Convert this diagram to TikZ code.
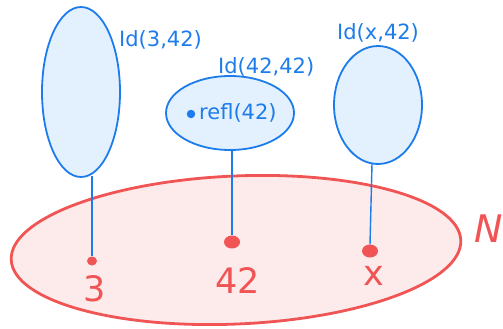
\documentclass[tikz,border=0pt]{standalone}
\usepackage{fontspec}
\setmainfont{DejaVu Sans}
\usetikzlibrary{shapes.geometric}
\definecolor{bstroke}{HTML}{1C7CEB}
\definecolor{bfill}{HTML}{E3F0FE}
\definecolor{rstroke}{HTML}{F05454}
\definecolor{rfill}{HTML}{FDEBEB}
\tikzset{
  fiber/.style={draw=bstroke, fill=bfill, line width=1.8pt, ellipse, inner sep=0pt, outer sep=0pt},
  blab/.style={text=bstroke, font=\fontsize{21}{21}\selectfont, inner sep=0pt},
  rlab/.style={text=rstroke, font=\fontsize{35}{35}\selectfont, inner sep=0pt},
  rdot/.style={fill=rstroke, draw=none, ellipse, inner sep=0pt},
  stem/.style={draw=bstroke, line width=1.4pt},
}
\begin{document}
\begin{tikzpicture}[x=1pt,y=-1pt]
\useasboundingbox (0,0) rectangle (503,329);
% base set
\node[draw=rstroke, fill=rfill, line width=2.8pt, ellipse, inner sep=0pt, minimum width=450, minimum height=148, rotate=2.5] (base) at (236,250) {};
\node[rlab, anchor=west, font=\itshape\fontsize{38}{38}\selectfont] (N) at (474,229) {N};
% fibers
\node[fiber, minimum width=78, minimum height=170] (f1) at (81,92) {};
\node[fiber, minimum width=128, minimum height=74] (f2) at (230,113) {};
\node[fiber, minimum width=88, minimum height=118] (f3) at (378,105) {};
\coordinate (s1) at (92,176);
\coordinate (s2) at (232,150);
\coordinate (s3) at (372,164);
% points
\node[rdot, minimum width=10, minimum height=9] (p1) at (92,261) {};
\node[rdot, minimum width=16, minimum height=13] (p2) at (232,242) {};
\node[rdot, minimum width=16, minimum height=13] (p3) at (370,251) {};
\draw[stem] (s1) -- (p1.north);
\draw[stem] (s2) -- (p2.north);
\draw[stem] (s3) -- (p3.north);
% labels
\node[rlab] (l3) at (95,289) {3};
\node[rlab] (l42) at (238,281) {42};
\node[rlab] (lx) at (374,276) {x};
\node[blab, anchor=west] (t1) at (119,40) {Id(3,42)};
\node[blab, anchor=west] (t2) at (218,67) {Id(42,42)};
\node[blab, anchor=west] (t3) at (337,33) {Id(x,42)};
\node[fill=bstroke, circle, inner sep=0pt, minimum size=8.5] (rd) at (191,114) {};
\node[blab, anchor=west] (refl) at (199,113) {refl(42)};
\end{tikzpicture}
\end{document}
